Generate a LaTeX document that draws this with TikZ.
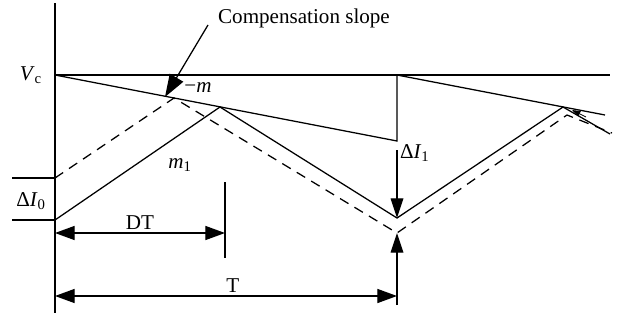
\documentclass[tikz,border=0pt]{standalone}
\usepackage{fontspec}
\setmainfont{Liberation Serif}
\usetikzlibrary{arrows.meta}

\begin{document}
\begin{tikzpicture}[x=0.025cm, y=-0.025cm, line width=0.9pt,
    every node/.style={font=\fontsize{15}{18}\selectfont, inner sep=1pt},
    dimarrow/.style={{Triangle[length=14pt,width=10pt]}-{Triangle[length=14pt,width=10pt]}},
    tiparrow/.style={-{Triangle[length=14pt,width=9pt]}}]
  \useasboundingbox (0,0) rectangle (617,322);

  % AXIS AND CONTROL LEVEL
  \coordinate (axtop) at (55,3);
  \coordinate (axbot) at (55,313);
  \draw (axtop) -- (axbot);
  \coordinate (vc0) at (55,75);
  \coordinate (vc1) at (610,75);
  \draw (vc0) -- (vc1);
  \node[anchor=east] (vclbl) at (44,75) {\textit{V}\textsubscript{c}};

  % COMPENSATION RAMP
  \coordinate (rampa) at (397,141);
  \coordinate (rampb) at (397,75);
  \coordinate (rampc) at (605,115);
  \draw (vc0) -- (rampa) -- (rampb) -- (rampc);

  % INDUCTOR CURRENT (SOLID) AND PERTURBED CURRENT (DASHED)
  \coordinate (s0) at (55,220);
  \coordinate (s1) at (220,107);
  \coordinate (s2) at (397,218);
  \coordinate (s3) at (563,107);
  \coordinate (s4) at (610,134);
  \draw (s0) -- (s1) -- (s2) -- (s3) -- (s4);
  \coordinate (d0) at (55,178);
  \coordinate (d1) at (174,98);
  \coordinate (d2) at (397,233);
  \coordinate (d3) at (567,115);
  \coordinate (d4) at (612,133);
  \draw[dashed, dash pattern=on 7pt off 5pt] (d0) -- (d1) -- (d2) -- (d3) -- (d4);
  \coordinate (sm0) at (586,117);
  \coordinate (sm1) at (572,110);
  \draw[-{Triangle[length=6pt,width=4pt]}, line width=0.6pt] (sm0) -- (sm1);

  % INITIAL PERTURBATION
  \coordinate (i0a) at (12,178);
  \coordinate (i0b) at (12,220);
  \draw (i0a) -- (d0);
  \draw (i0b) -- (s0);
  \node (di0) at (31,201) {Δ\textit{I}\textsubscript{0}};
  \node (m1) at (180,165) {\textit{m}\textsubscript{1}};

  % COMPENSATION SLOPE LABEL
  \node (comp) at (304,18) {Compensation slope};
  \coordinate (comptail) at (208,25);
  \coordinate (comptip) at (165,97);
  \draw[-{Triangle[length=16pt,width=11pt]}] (comptail) -- (comptip);
  \node (mlbl) at (198,88) {−\textit{m}};

  % PERTURBATION AFTER ONE PERIOD
  \coordinate (di1top) at (397,150);
  \coordinate (di1bot) at (397,305);
  \draw[tiparrow] (di1top) -- (s2);
  \draw[tiparrow] (di1bot) -- (d2);
  \node[anchor=west] (di1) at (398,153) {Δ\textit{I}\textsubscript{1}};

  % DUTY AND PERIOD
  \coordinate (dtl) at (55,233);
  \coordinate (dtr) at (225,233);
  \coordinate (dttop) at (225,182);
  \coordinate (dtbot) at (225,258);
  \draw (dttop) -- (dtbot);
  \draw[dimarrow] (dtl) -- (dtr) node[midway, above=1pt] (dtlbl) {DT};
  \coordinate (tl) at (55,296);
  \coordinate (tr) at (397,296);
  \draw[dimarrow] (tl) -- (tr) node[pos=0.52, above=1pt] (tlbl) {T};
\end{tikzpicture}
\end{document}
